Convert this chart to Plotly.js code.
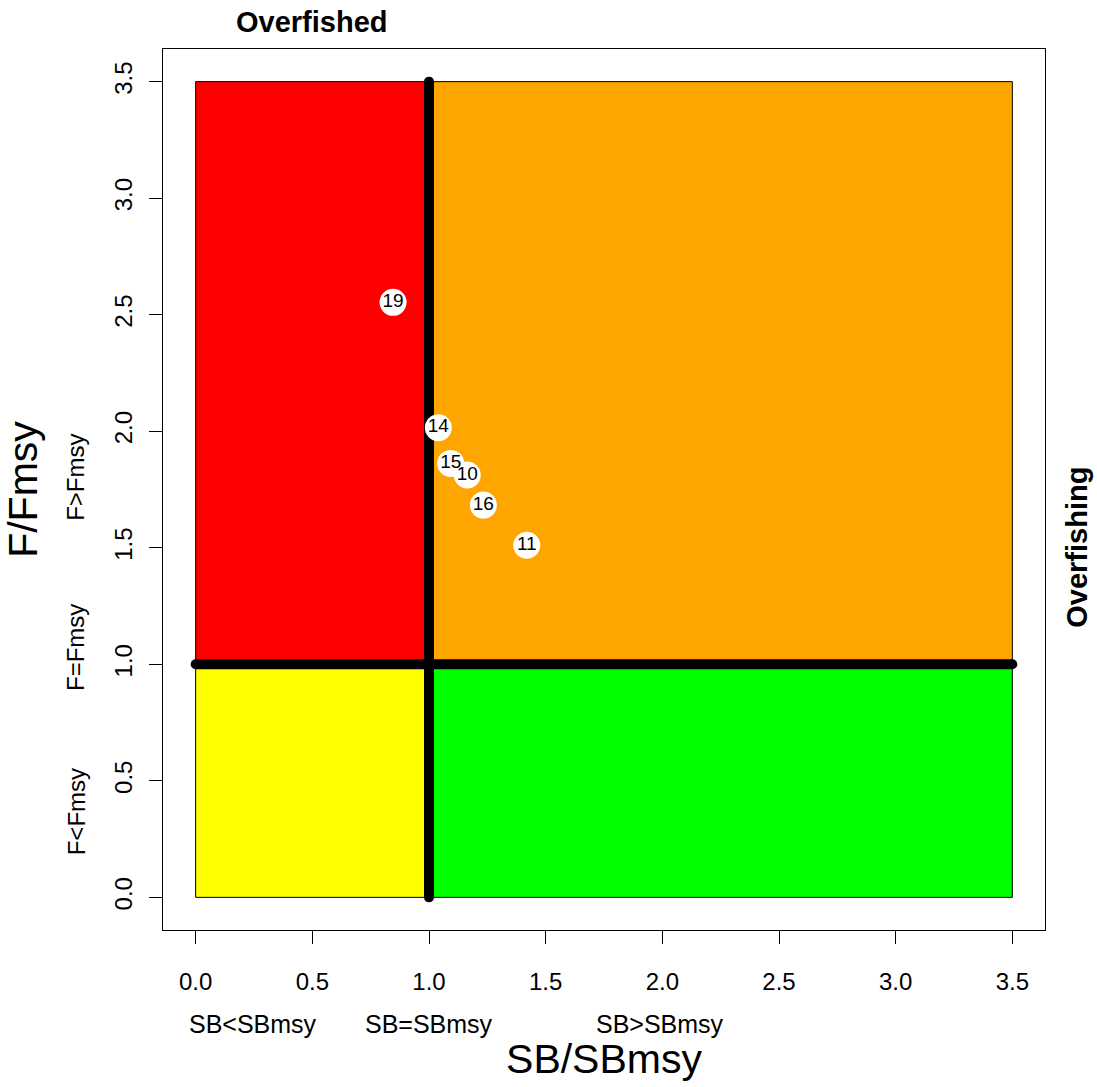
<!DOCTYPE html>
<html>
<head>
<meta charset="utf-8">
<script src="https://cdn.plot.ly/plotly-3.0.1.min.js"></script>
<style>html,body{margin:0;padding:0;background:#fff;}#chart{width:1097px;height:1087px;}</style>
</head>
<body>
<div id="chart"></div>
<script>
// Stock status points (SB/SBmsy, F/Fmsy) labelled by year index
const yearLabels = ["19", "14", "15", "10", "16", "11"];
const sbRatio = [0.846, 1.040, 1.093, 1.164, 1.233, 1.419];
const fRatio = [2.553, 2.015, 1.862, 1.812, 1.683, 1.511];

// Quadrants of the Kobe plot
const quadX0 = [0, 1, 0, 1];
const quadX1 = [1, 3.5, 1, 3.5];
const quadY0 = [1, 1, 0, 0];
const quadY1 = [3.5, 3.5, 1, 1];
const quadColors = ["#FF0000", "#FFA500", "#FFFF00", "#00FF00"];

// Reference lines
const refVX = [1, 1], refVY = [0, 3.5];
const refHX = [0, 3.5], refHY = [1, 1];

const tickVals = [0, 0.5, 1, 1.5, 2, 2.5, 3, 3.5];

// Side labels
const yZoneLabels = ["F<Fmsy", "F=Fmsy", "F>Fmsy"];
const yZonePos = [0.365, 1.07, 1.80];
const xZoneLabels = ["SB<SBmsy", "SB=SBmsy", "SB>SBmsy"];
const xZonePos = [0.245, 1.0, 1.99];

const FONT = '"Liberation Sans", Arial, sans-serif';

const shapes = quadColors.map((c, i) => ({
  type: 'rect', xref: 'x', yref: 'y', layer: 'below',
  x0: quadX0[i], x1: quadX1[i], y0: quadY0[i], y1: quadY1[i],
  fillcolor: c, line: {color: '#000', width: 1}
}));

const traces = [
  {x: refVX, y: refVY, mode: 'lines+markers', line: {color: '#000', width: 10},
   marker: {color: '#000', size: 10}, hoverinfo: 'skip', showlegend: false},
  {x: refHX, y: refHY, mode: 'lines+markers', line: {color: '#000', width: 10},
   marker: {color: '#000', size: 10}, hoverinfo: 'skip', showlegend: false},
  {x: sbRatio, y: fRatio, text: yearLabels, mode: 'markers+text',
   textposition: 'middle center',
   textfont: {family: FONT, size: 19, color: '#000'},
   marker: {color: '#fff', size: 27, line: {width: 0}},
   showlegend: false}
];

const annotations = [];
yZoneLabels.forEach((t, i) => annotations.push({
  text: t, xref: 'paper', yref: 'y', x: 0, xshift: -87, y: yZonePos[i],
  textangle: -90, showarrow: false, font: {family: FONT, size: 24, color: '#000'},
  xanchor: 'center', yanchor: 'middle'
}));
xZoneLabels.forEach((t, i) => annotations.push({
  text: t, xref: 'x', yref: 'paper', x: xZonePos[i], y: 0, yshift: -94,
  showarrow: false, font: {family: FONT, size: 25, color: '#000'},
  xanchor: 'center', yanchor: 'middle'
}));
annotations.push({
  text: '<b>Overfished</b>', xref: 'x', yref: 'paper', x: 0.5, y: 1, yshift: 27,
  showarrow: false, font: {family: FONT, size: 29, color: '#000'},
  xanchor: 'center', yanchor: 'middle'
});
annotations.push({
  text: '<b>Overfishing</b>', xref: 'paper', yref: 'y', x: 1, xshift: 32, y: 1.5,
  textangle: -90, showarrow: false, font: {family: FONT, size: 29, color: '#000'},
  xanchor: 'center', yanchor: 'middle'
});

const axisCommon = {
  range: [-0.14, 3.64], tickvals: tickVals, tickformat: '.1f',
  ticks: 'outside', ticklen: 13, tickcolor: '#000', tickwidth: 1,
  showline: true, mirror: true, linecolor: '#000', linewidth: 1,
  showgrid: false, zeroline: false, automargin: false,
  tickfont: {family: FONT, size: 24, color: '#000'}
};

const layout = {
  width: 1097, height: 1087,
  margin: {l: 163, r: 52, t: 49, b: 157},
  paper_bgcolor: '#fff', plot_bgcolor: '#fff',
  xaxis: Object.assign({}, axisCommon, {
    ticklabelstandoff: 17,
    title: {text: 'SB/SBmsy', font: {family: FONT, size: 41, color: '#000'}, standoff: 50}
  }),
  yaxis: Object.assign({}, axisCommon, {
    tickangle: -90, ticklabelstandoff: 7,
    title: {text: 'F/Fmsy', font: {family: FONT, size: 41, color: '#000'}, standoff: 62}
  }),
  shapes: shapes,
  annotations: annotations,
  showlegend: false,
  hovermode: false
};

Plotly.newPlot('chart', traces, layout, {displayModeBar: false, staticPlot: true});
</script>
</body>
</html>
